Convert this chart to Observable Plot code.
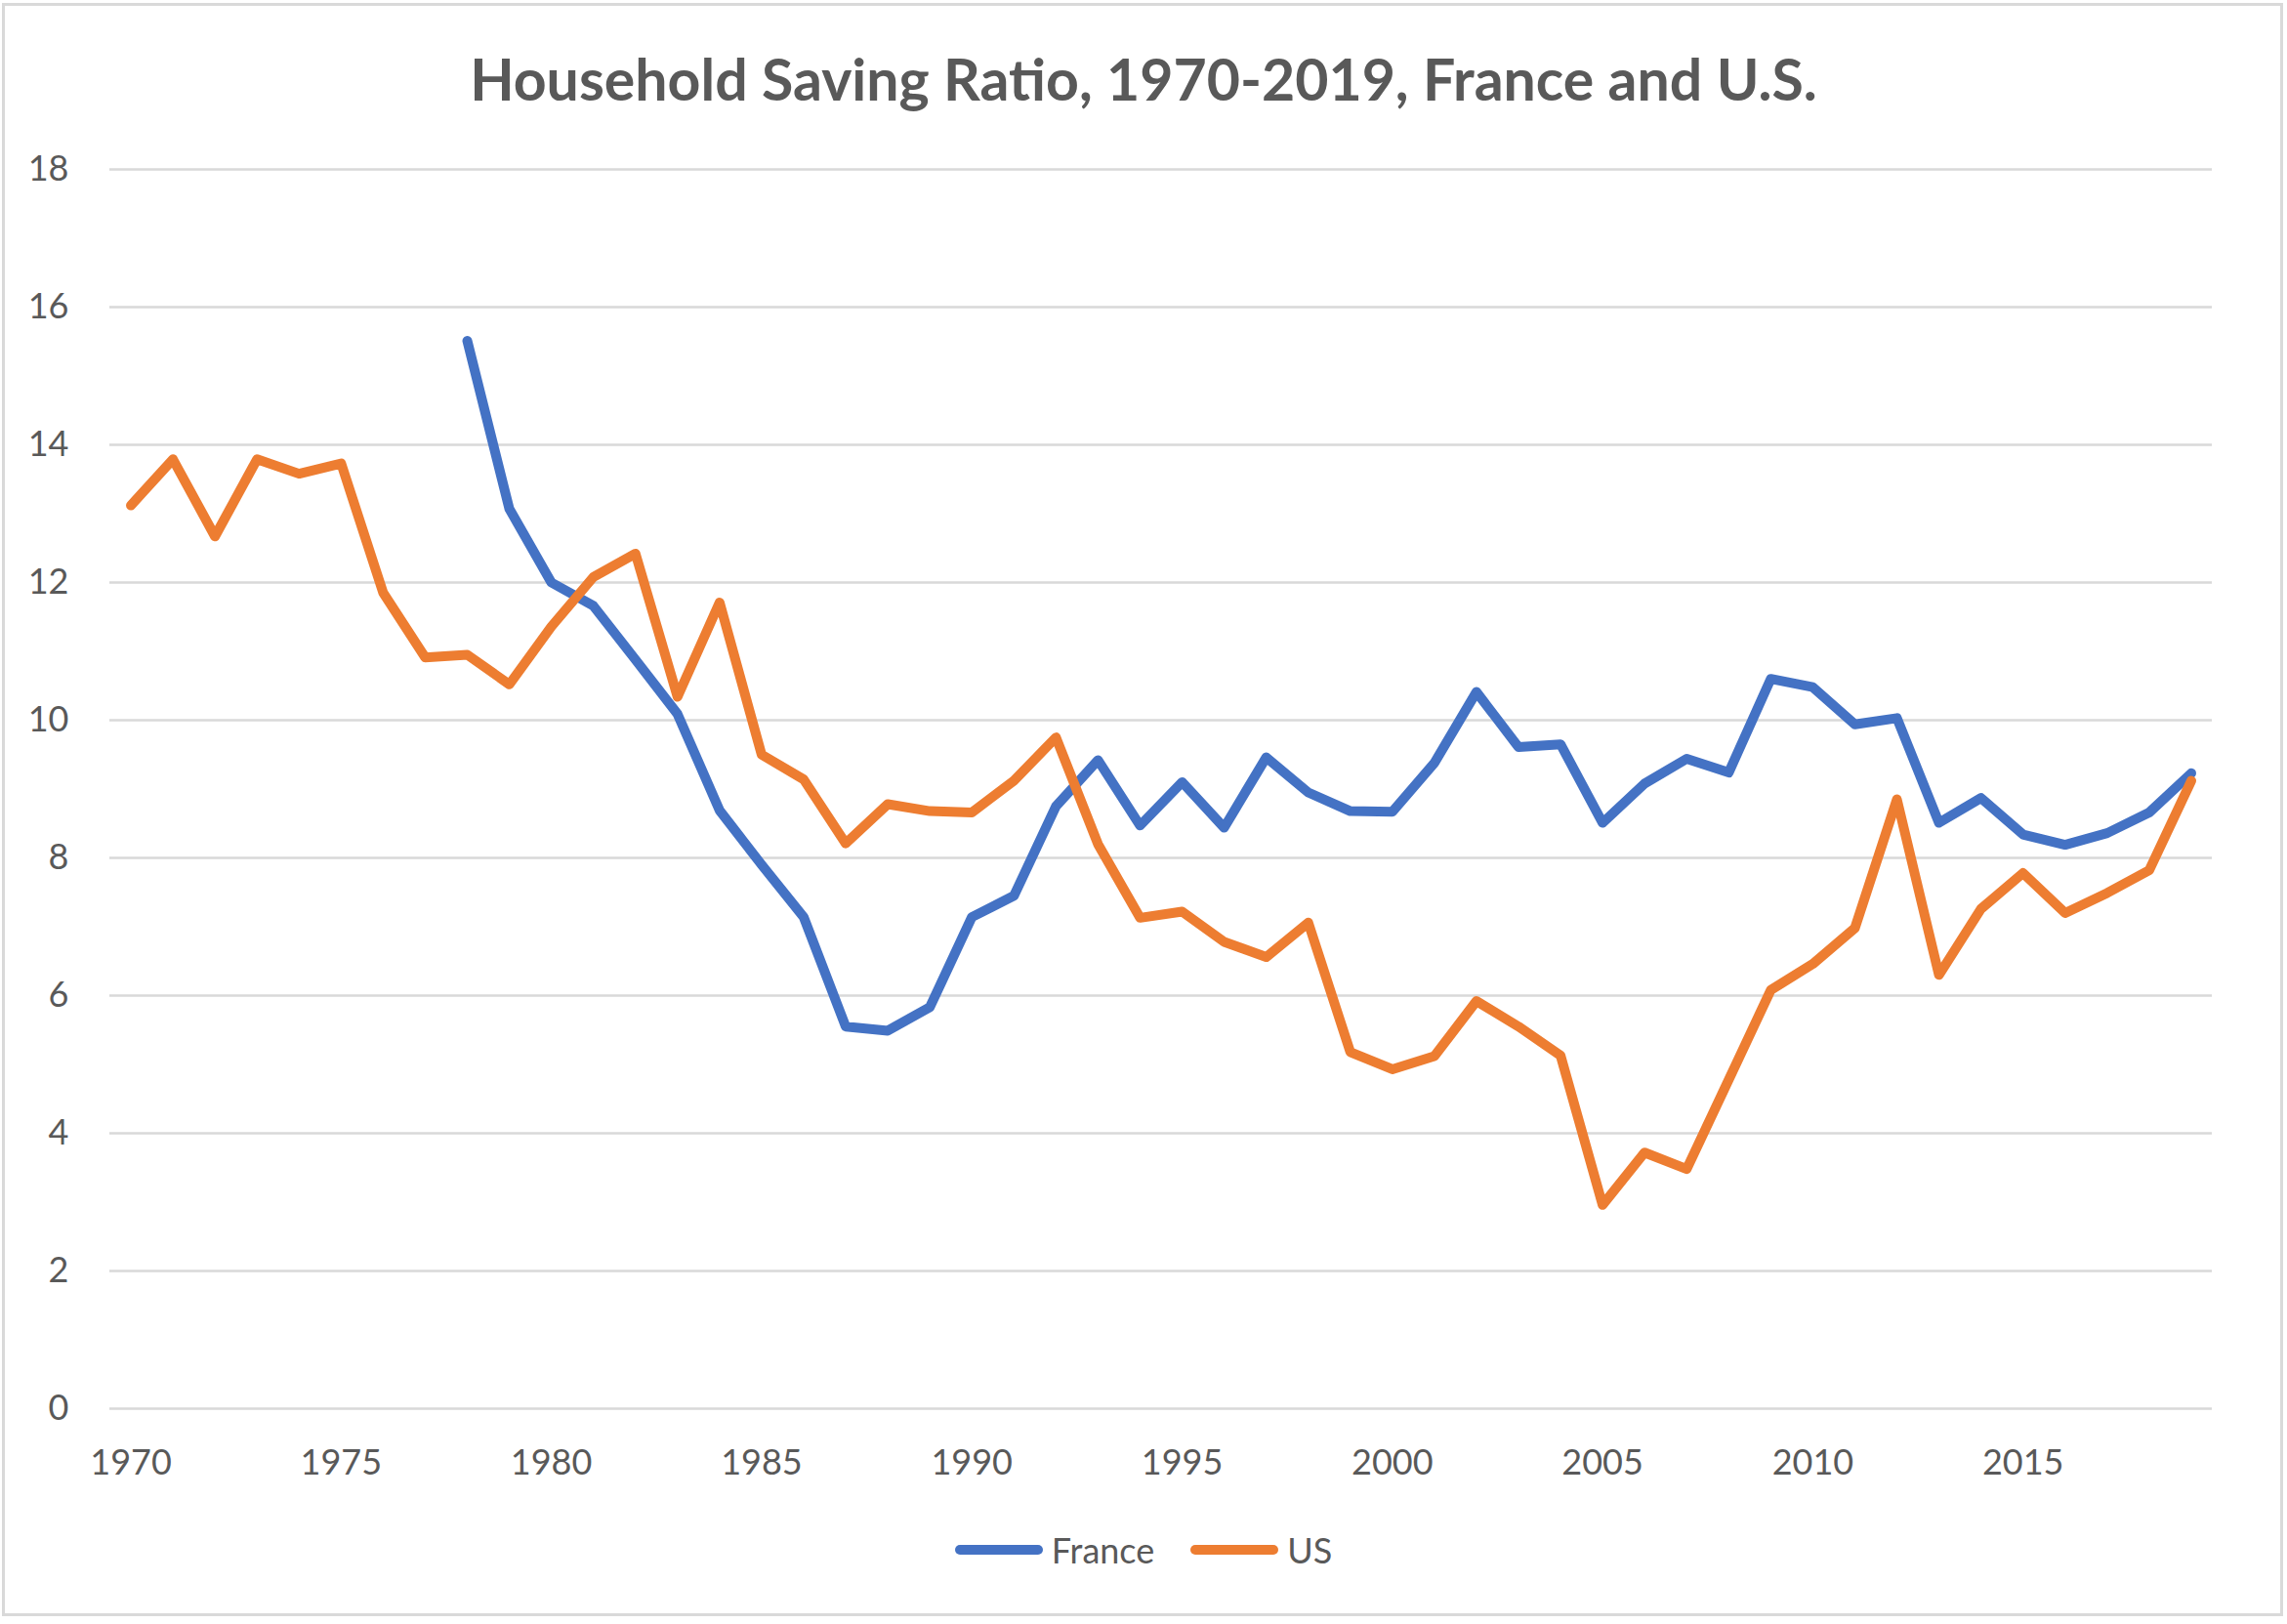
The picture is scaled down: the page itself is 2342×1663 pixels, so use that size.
<!DOCTYPE html>
<html>
<head>
<meta charset="utf-8">
<script src="https://cdn.jsdelivr.net/npm/d3@7"></script>
<script src="https://cdn.jsdelivr.net/npm/@observablehq/plot@0.6"></script>
<style>
  html, body { margin: 0; padding: 0; background: #fff; }
  #wrap { position: relative; width: 2342px; height: 1663px; overflow: hidden; font-family: Lato, "Open Sans", sans-serif; }
  #frame { position: absolute; left: 2px; top: 3px; width: 2330px; height: 1646px; border: 3px solid #d9d9d9; }
  #title { position: absolute; left: 0; top: 47px; width: 2342px; text-align: center; font-size: 59px; line-height: 68px; font-weight: bold; color: #595959; }
  #chart { position: absolute; left: 0; top: 130px; }
  #legend { position: absolute; left: 0; top: 1563px; width: 2342px; display: flex; justify-content: center; align-items: center; font-size: 36px; line-height: 48px; color: #595959; }
  .item { display: flex; align-items: center; }
  .sw { width: 90px; height: 10px; border-radius: 5px; margin-right: 9px; }
</style>
</head>
<body>
<div id="wrap">
  <div id="frame"></div>
  <div id="title">Household Saving Ratio, 1970-2019, France and U.S.</div>
  <div id="chart"></div>
  <div id="legend"></div>
</div>
<script>
const years = [1970,1971,1972,1973,1974,1975,1976,1977,1978,1979,
               1980,1981,1982,1983,1984,1985,1986,1987,1988,1989,
               1990,1991,1992,1993,1994,1995,1996,1997,1998,1999,
               2000,2001,2002,2003,2004,2005,2006,2007,2008,2009,
               2010,2011,2012,2013,2014,2015,2016,2017,2018,2019];
const france = [null,null,null,null,null,null,null,null,15.51,13.07,
                12.00,11.66,10.88,10.09,8.69,7.90,7.14,5.55,5.49,5.83,
                7.14,7.45,8.75,9.42,8.47,9.10,8.44,9.46,8.95,8.68,
                8.67,9.38,10.41,9.61,9.65,8.51,9.08,9.44,9.24,10.60,
                10.48,9.94,10.03,8.51,8.87,8.34,8.19,8.36,8.66,9.23];
const us = [13.12,13.79,12.67,13.79,13.58,13.73,11.85,10.91,10.95,10.52,
            11.36,12.08,12.42,10.34,11.71,9.50,9.14,8.21,8.78,8.68,
            8.66,9.12,9.75,8.20,7.13,7.22,6.78,6.56,7.06,5.18,
            4.93,5.12,5.92,5.55,5.13,2.96,3.72,3.48,4.78,6.08,
            6.46,6.98,8.85,6.30,7.26,7.78,7.20,7.49,7.82,9.12];
const seriesNames = ["France", "US"];
const seriesColors = ["#4472C4", "#ED7D31"];
const yTicks = [0,2,4,6,8,10,12,14,16,18];
const xTicks = [1970,1975,1980,1985,1990,1995,2000,2005,2010,2015];

const rows = [];
years.forEach((yr, i) => {
  if (france[i] != null) rows.push({year: yr, value: france[i], series: "France"});
});
years.forEach((yr, i) => {
  if (us[i] != null) rows.push({year: yr, value: us[i], series: "US"});
});

const chart = Plot.plot({
  width: 2342,
  height: 1420,
  marginTop: 43,
  marginBottom: 108,
  marginLeft: 112,
  marginRight: 77,
  style: { fontFamily: "Lato, 'Open Sans', sans-serif", fontSize: "36px", color: "#595959", background: "transparent" },
  x: { domain: [1969.5, 2019.5] },
  y: { domain: [0, 18] },
  color: { domain: seriesNames, range: seriesColors },
  marks: [
    Plot.ruleY(yTicks, { stroke: "#d9d9d9", strokeWidth: 2.5 }),
    Plot.axisY({ ticks: yTicks, tickSize: 0, tickPadding: 42, label: null, fill: "#595959" }),
    Plot.axisX({ ticks: xTicks, tickSize: 0, tickPadding: 42, tickFormat: d => String(d), label: null, fill: "#595959" }),
    Plot.line(rows, { x: "year", y: "value", z: "series", stroke: "series", strokeWidth: 10, strokeLinejoin: "round", strokeLinecap: "round" })
  ]
});
document.getElementById("chart").appendChild(chart);

const legend = document.getElementById("legend");
seriesNames.forEach((name, i) => {
  const item = document.createElement("div");
  item.className = "item";
  if (i > 0) item.style.marginLeft = "37px";
  const sw = document.createElement("div");
  sw.className = "sw";
  sw.style.background = seriesColors[i];
  const label = document.createElement("span");
  label.textContent = name;
  item.appendChild(sw);
  item.appendChild(label);
  legend.appendChild(item);
});
</script>
</body>
</html>
